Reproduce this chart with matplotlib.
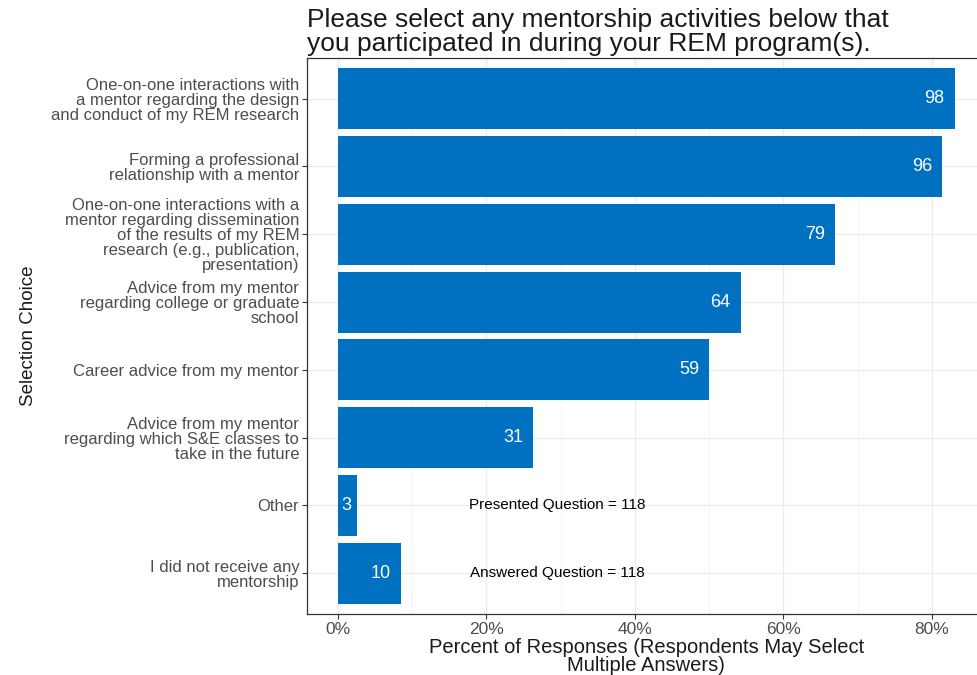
import matplotlib
matplotlib.use("Agg")
import matplotlib.pyplot as plt
from matplotlib.ticker import MultipleLocator, FuncFormatter

plt.rcParams["font.family"] = ["Liberation Sans", "DejaVu Sans"]

categories = [
    "One-on-one interactions with\na mentor regarding the design\nand conduct of my REM research",
    "Forming a professional\nrelationship with a mentor",
    "One-on-one interactions with a\nmentor regarding dissemination\nof the results of my REM\nresearch (e.g., publication,\npresentation)",
    "Advice from my mentor\nregarding college or graduate\nschool",
    "Career advice from my mentor",
    "Advice from my mentor\nregarding which S&E classes to\ntake in the future",
    "Other",
    "I did not receive any\nmentorship",
]
counts = [98, 96, 79, 64, 59, 31, 3, 10]
n_presented = 118
n_answered = 118

pct = [c / n_answered * 100 for c in counts]

fig = plt.figure(figsize=(9.77, 6.75), dpi=100)
ax = fig.add_axes([0.3142, 0.0904, 0.6945, 0.8237])

bar_color = "#0070C0"
ypos = list(range(len(categories)))[::-1]
ax.barh(ypos, pct, height=0.9, color=bar_color, zorder=3)

# value labels sit inside the bar end, padded by about half their own width
label_size = 13
for y, p, c in zip(ypos, pct, counts):
    pad_pts = 0.5 * 0.556 * label_size * len(str(c))
    ax.annotate(str(c), xy=(p, y), xytext=(-pad_pts, 0),
                textcoords="offset points", color="white", ha="right",
                va="center", fontsize=label_size, zorder=4)

ax.text(29.6, ypos[6], f"Presented Question = {n_presented}", ha="center",
        va="center", fontsize=11, color="black")
ax.text(29.6, ypos[7], f"Answered Question = {n_answered}", ha="center",
        va="center", fontsize=11, color="black")

xmax = max(pct)
ax.set_xlim(-0.05 * xmax, xmax * 1.05)
ax.set_ylim(-0.6, len(categories) - 1 + 0.6)
ax.set_yticks(ypos)
ax.set_yticklabels(categories, fontsize=12, color="#4D4D4D", linespacing=1.0)
ax.xaxis.set_major_locator(MultipleLocator(20))
ax.xaxis.set_minor_locator(MultipleLocator(10))
ax.xaxis.set_major_formatter(FuncFormatter(lambda v, _: f"{v:.0f}%"))
ax.tick_params(axis="x", labelsize=12.5, labelcolor="#4D4D4D", color="#333333",
               length=3.5, width=0.8, pad=2)
ax.tick_params(axis="x", which="minor", length=0)
ax.tick_params(axis="y", color="#333333", length=3.5, width=0.8, pad=2)

ax.grid(True, which="major", color="#EBEBEB", linewidth=0.9, zorder=0)
ax.grid(True, which="minor", axis="x", color="#F2F2F2", linewidth=0.6, zorder=0)
ax.set_axisbelow(True)
for s in ax.spines.values():
    s.set_color("#333333")
    s.set_linewidth(0.9)

ax.set_xlabel("Percent of Responses (Respondents May Select\nMultiple Answers)",
              fontsize=14.5, color="#1A1A1A", linespacing=0.95, labelpad=1)
ax.set_ylabel("Selection Choice", fontsize=13.5, color="#1A1A1A", labelpad=10)

fig.text(0.3142, 0.988, "Please select any mentorship activities below that\n"
         "you participated in during your REM program(s).",
         ha="left", va="top", fontsize=19, color="#1A1A1A", linespacing=0.98)

fig.savefig("out.png", dpi=100)
